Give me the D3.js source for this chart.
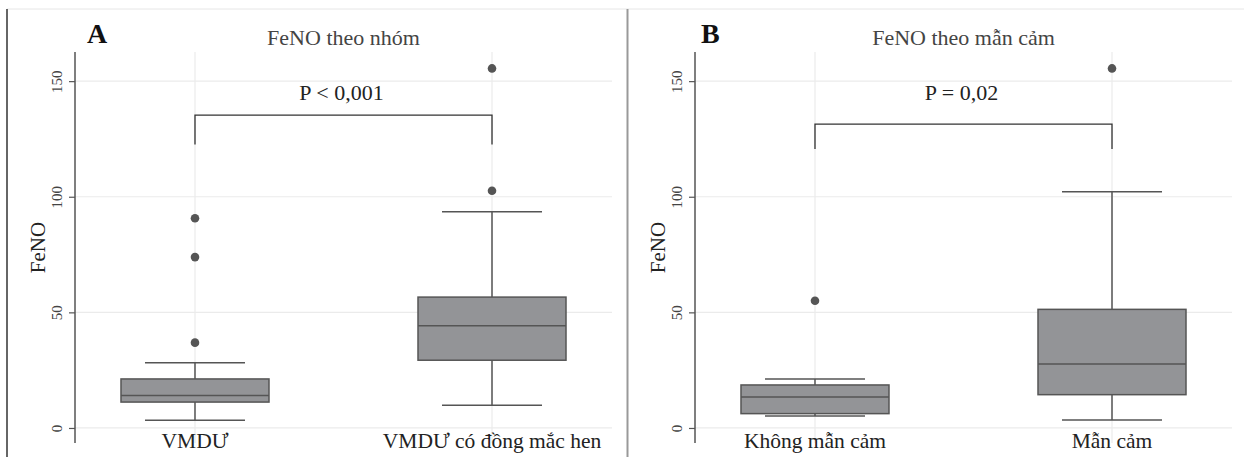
<!DOCTYPE html>
<html>
<head>
<meta charset="utf-8">
<script src="https://cdn.jsdelivr.net/npm/d3@7"></script>
<style>
  body { margin: 0; background: #fff; }
  svg text { font-family: "Liberation Serif", "Times New Roman", serif; }
</style>
</head>
<body>
<div id="chart"></div>
<script>
// --- data ---
const catsA = ['VMDƯ', 'VMDƯ có đồng mắc hen'];
const lowA = [3.3, 9.8];
const q1A = [11.2, 29.3];
const medA = [14.0, 44.2];
const q3A = [21.2, 56.6];
const highA = [28.2, 93.5];
const outA = [[36.9, 73.9, 90.7], [102.6, 155.5]];

const catsB = ['Không mẫn cảm', 'Mẫn cảm'];
const lowB = [5.2, 3.5];
const q1B = [6.2, 14.4];
const medB = [13.4, 27.7];
const q3B = [18.6, 51.3];
const highB = [21.2, 102.2];
const outB = [[55.0], [155.5]];

const yTicks = [0, 50, 100, 150];
const titles = ['FeNO theo nhóm', 'FeNO theo mẫn cảm'];
const letters = ['A', 'B'];
const pLabels = ['P < 0,001', 'P = 0,02'];
const bracketTop = [135.3, 131.4];
const bracketFoot = [122.6, 120.6];

const W = 1244, H = 457;
const svg = d3.select('#chart').append('svg')
  .attr('width', W).attr('height', H);

// frame lines
svg.append('line').attr('x1', 7).attr('x2', W).attr('y1', 9).attr('y2', 9)
  .attr('stroke', '#e6e6e6').attr('stroke-width', 1);
svg.append('line').attr('x1', 7).attr('x2', 7).attr('y1', 9).attr('y2', H)
  .attr('stroke', '#333').attr('stroke-width', 1.5);
svg.append('line').attr('x1', 627.5).attr('x2', 627.5).attr('y1', 9).attr('y2', H)
  .attr('stroke', '#999').attr('stroke-width', 2);

function drawPanel(i, offset, cats, low, q1, med, q3, high, outs, letterX) {
  const g = svg.append('g').attr('transform', `translate(${offset},0)`);
  const left = 75, right = 612;

  const x = d3.scalePoint().domain(cats).range([left, right]).padding(0.404);
  const y = d3.scaleLinear().domain([-6.5, 162.6]).range([443, 52]);

  // grid
  g.selectAll('.hgrid').data(yTicks).enter().append('line')
    .attr('x1', left).attr('x2', right)
    .attr('y1', d => y(d)).attr('y2', d => y(d))
    .attr('stroke', '#ebebeb').attr('stroke-width', 1.2);
  g.selectAll('.vgrid').data(cats).enter().append('line')
    .attr('x1', d => x(d)).attr('x2', d => x(d))
    .attr('y1', y.range()[1]).attr('y2', y.range()[0])
    .attr('stroke', '#ebebeb').attr('stroke-width', 1.2);

  // y axis
  const yAxis = g.append('g').attr('transform', `translate(${left},0)`)
    .call(d3.axisLeft(y).tickValues(yTicks).tickSize(6).tickPadding(4));
  yAxis.select('.domain').attr('stroke', '#555').attr('stroke-width', 1.5)
    .attr('d', `M0,${y.range()[1]}V${y.range()[0]}`);
  yAxis.selectAll('.tick line').attr('stroke', '#555').attr('stroke-width', 1.2);
  yAxis.selectAll('.tick text')
    .attr('font-family', '"Liberation Serif", serif')
    .attr('font-size', 15).attr('fill', '#444')
    .attr('transform', 'rotate(-90)')
    .attr('x', 0).attr('y', -13)
    .attr('text-anchor', 'middle').attr('dy', 0);

  g.append('text')
    .attr('transform', `translate(45,${(y.range()[0] + y.range()[1]) / 2}) rotate(-90)`)
    .attr('text-anchor', 'middle').attr('font-size', 21).attr('fill', '#222')
    .text('FeNO');

  // x labels
  g.selectAll('.xlab').data(cats).enter().append('text')
    .attr('x', d => x(d)).attr('y', 448)
    .attr('text-anchor', 'middle').attr('font-size', 21.5).attr('fill', '#222')
    .text(d => d);

  const boxW = 148, capW = 100;
  const stroke = '#555';
  cats.forEach((c, k) => {
    const cx = x(c);
    // whiskers
    g.append('line').attr('x1', cx).attr('x2', cx)
      .attr('y1', y(q3[k])).attr('y2', y(high[k]))
      .attr('stroke', stroke).attr('stroke-width', 1.5);
    g.append('line').attr('x1', cx).attr('x2', cx)
      .attr('y1', y(q1[k])).attr('y2', y(low[k]))
      .attr('stroke', stroke).attr('stroke-width', 1.5);
    g.append('line').attr('x1', cx - capW / 2).attr('x2', cx + capW / 2)
      .attr('y1', y(high[k])).attr('y2', y(high[k]))
      .attr('stroke', stroke).attr('stroke-width', 1.5);
    g.append('line').attr('x1', cx - capW / 2).attr('x2', cx + capW / 2)
      .attr('y1', y(low[k])).attr('y2', y(low[k]))
      .attr('stroke', stroke).attr('stroke-width', 1.5);
    // box
    g.append('rect').attr('x', cx - boxW / 2).attr('width', boxW)
      .attr('y', y(q3[k])).attr('height', y(q1[k]) - y(q3[k]))
      .attr('fill', '#939497').attr('stroke', stroke).attr('stroke-width', 1.5);
    g.append('line').attr('x1', cx - boxW / 2).attr('x2', cx + boxW / 2)
      .attr('y1', y(med[k])).attr('y2', y(med[k]))
      .attr('stroke', stroke).attr('stroke-width', 1.5);
    // outliers
    g.selectAll(null).data(outs[k]).enter().append('circle')
      .attr('cx', cx).attr('cy', d => y(d)).attr('r', 4.3)
      .attr('fill', '#555');
  });

  // significance bracket
  const x1 = x(cats[0]), x2 = x(cats[1]);
  g.append('path')
    .attr('d', `M${x1},${y(bracketFoot[i])}V${y(bracketTop[i])}H${x2}V${y(bracketFoot[i])}`)
    .attr('fill', 'none').attr('stroke', '#333').attr('stroke-width', 1.3);
  g.append('text').attr('x', (x1 + x2) / 2 - 2).attr('y', 100)
    .attr('text-anchor', 'middle').attr('font-size', 22).attr('fill', '#222')
    .text(pLabels[i]);

  // title + panel letter
  g.append('text').attr('x', (left + right) / 2).attr('y', 45)
    .attr('text-anchor', 'middle').attr('font-size', 22).attr('fill', '#444')
    .text(titles[i]);
  g.append('text').attr('x', letterX).attr('y', 43)
    .attr('font-size', 28).attr('font-weight', 'bold').attr('fill', '#111')
    .text(letters[i]);
}

drawPanel(0, 0, catsA, lowA, q1A, medA, q3A, highA, outA, 87);
drawPanel(1, 620, catsB, lowB, q1B, medB, q3B, highB, outB, 81);
</script>
</body>
</html>
